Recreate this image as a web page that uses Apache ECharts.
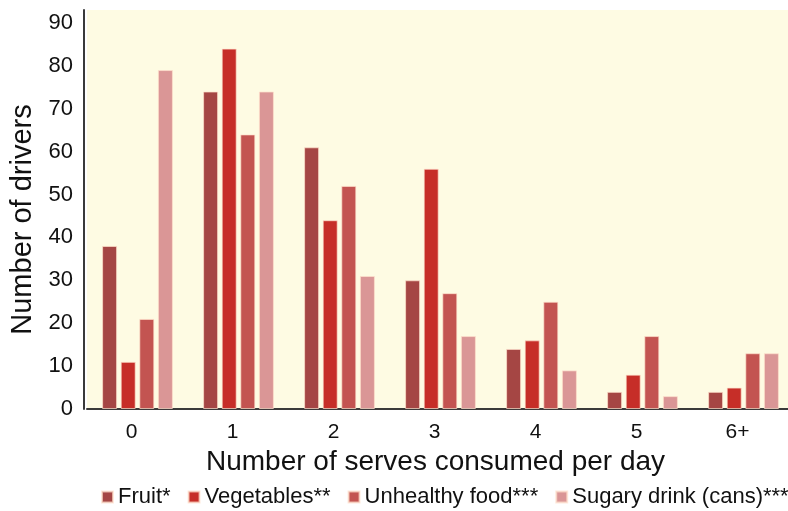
<!DOCTYPE html>
<html><head><meta charset="utf-8">
<script src="https://cdn.jsdelivr.net/npm/echarts@6/dist/echarts.min.js"></script>
<style>html,body{margin:0;padding:0;background:#fff;overflow:hidden}#c{width:800px;height:511px}</style>
</head><body><div id="c"></div>
<script>
const categories = ['0','1','2','3','4','5','6+'];
const fruit = [38, 74, 61, 30, 14, 4, 4];
const vegetables = [11, 84, 44, 56, 16, 8, 5];
const unhealthy = [21, 64, 52, 27, 25, 17, 13];
const sugary = [79, 74, 31, 17, 9, 3, 13];
const seriesNames = ['Fruit*', 'Vegetables**', 'Unhealthy food***', 'Sugary drink (cans)***'];
const colors = ['#A54644', '#C62E28', '#C35451', '#DA9696'];
const font = 'Liberation Sans, Arial, sans-serif';

const chart = echarts.init(document.getElementById('c'));
const mk = (name, data, i) => ({
  name, type: 'bar', data, barWidth: 15, barGap: '24%',
  itemStyle: { color: colors[i], borderColor: 'rgba(255,225,205,0.7)', borderWidth: 1 }
});
chart.setOption({
  animation: false,
  color: colors,
  grid: { left: 83, top: 10, width: 711, height: 399, backgroundColor: '#FEFBE3', show: true, borderWidth: 0 },
  xAxis: {
    type: 'category', data: categories,
    axisLine: { lineStyle: { color: '#3a3a3a', width: 2 } },
    axisTick: { show: false },
    axisLabel: { color: '#111', fontSize: 21, fontFamily: font, margin: 13, padding: [0, 12, 0, 0] },
    name: 'Number of serves consumed per day', nameLocation: 'middle', nameGap: 38,
    nameTextStyle: { color: '#111', fontSize: 28, fontFamily: font, padding: [0, 10, 0, 0] }
  },
  yAxis: {
    type: 'value', min: 0, max: 93, interval: 10, offset: 3,
    axisLine: { show: true, lineStyle: { color: '#3a3a3a', width: 2 } },
    axisTick: { show: false },
    splitLine: { show: false },
    axisLabel: { color: '#111', fontSize: 22, fontFamily: font, margin: 11, showMaxLabel: false },
    name: 'Number of drivers', nameLocation: 'middle', nameGap: 47,
    nameTextStyle: { color: '#111', fontSize: 29, fontFamily: font, padding: [0, 20, 0, 0] }
  },
  legend: {
    bottom: 3, left: 101, width: 700, padding: 0, itemWidth: 11, itemHeight: 11, itemGap: 17,
    icon: 'rect',
    textStyle: { color: '#111', fontSize: 22, fontFamily: font },
    data: seriesNames
  },
  series: [
    mk(seriesNames[0], fruit, 0),
    mk(seriesNames[1], vegetables, 1),
    mk(seriesNames[2], unhealthy, 2),
    mk(seriesNames[3], sugary, 3)
  ]
});
</script></body></html>
